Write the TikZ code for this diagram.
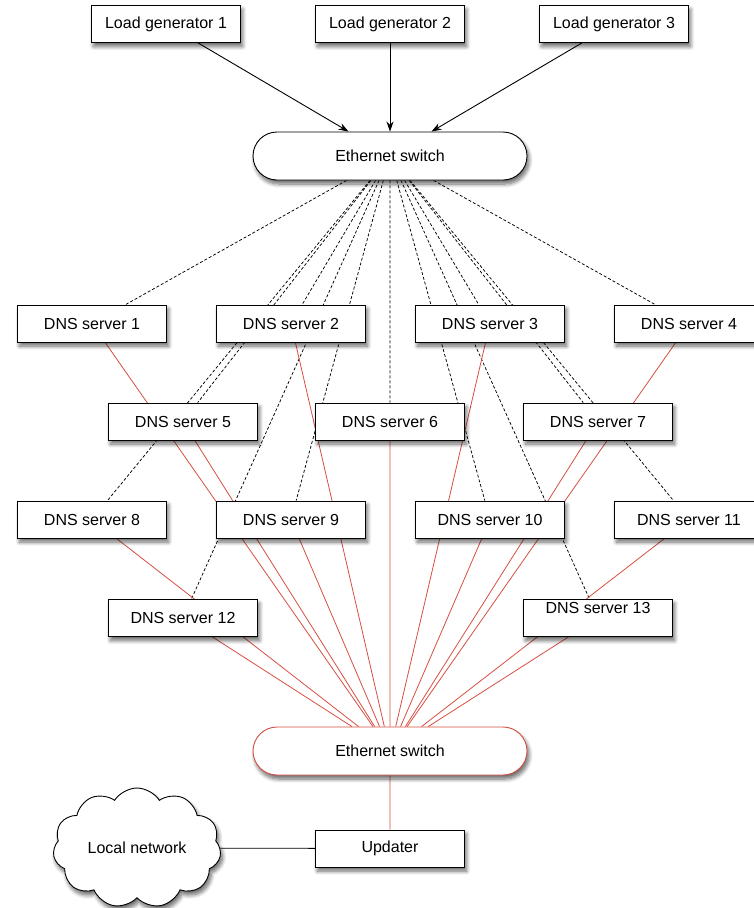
\documentclass[tikz,border=0pt]{standalone}
\usepackage{fontspec}
\setmainfont{Liberation Sans}
\usetikzlibrary{shapes.misc,shapes.symbols,arrows.meta,backgrounds,shadows.blur}
\definecolor{netred}{RGB}{214,78,66}
\begin{document}
\begin{tikzpicture}[x=1pt,y=-1pt,
  font=\fontsize{16}{19}\selectfont,
  shade/.style={blur shadow={shadow xshift=2pt, shadow yshift=-4pt, shadow blur steps=8, shadow blur radius=4pt, shadow opacity=60}},
  box/.style={draw, fill=white, line width=0.9pt, minimum width=149pt, minimum height=37pt, inner sep=0pt, shade},
  switchbox/.style={draw, fill=white, line width=0.9pt, rounded rectangle, minimum width=274pt, minimum height=48pt, inner sep=0pt, shade},
  dashline/.style={draw=black, line width=0.75pt, dash pattern=on 3pt off 2pt},
  redline/.style={draw=netred, line width=0.8pt},
  arrowline/.style={draw, line width=0.9pt, -{Stealth[length=10pt,width=7pt]}}]

\useasboundingbox (0,0) rectangle (754,908);
\clip (0,0) rectangle (754,908);

% load generators
\node[box] (lg1) at (166,24) {Load generator 1};
\node[box] (lg2) at (390,24) {Load generator 2};
\node[box] (lg3) at (614,24) {Load generator 3};

% switches
\node[switchbox] (sw1) at (390,156) {Ethernet switch};
\node[switchbox, draw=netred] (sw2) at (390,751) {Ethernet switch};

% DNS servers
\node[box] (d1) at (92,323.5) {DNS server 1};
\node[box] (d2) at (291,323.5) {DNS server 2};
\node[box] (d3) at (490,323.5) {DNS server 3};
\node[box] (d4) at (689,323.5) {DNS server 4};
\node[box] (d5) at (183,421.5) {DNS server 5};
\node[box] (d6) at (390,421.5) {DNS server 6};
\node[box] (d7) at (598,421.5) {DNS server 7};
\node[box] (d8) at (92,519.5) {DNS server 8};
\node[box] (d9) at (291,519.5) {DNS server 9};
\node[box] (d10) at (490,519.5) {DNS server 10};
\node[box] (d11) at (689,519.5) {DNS server 11};
\node[box] (d12) at (183,618) {DNS server 12};
\node[box, label={[yshift=10pt]center:DNS server 13}] (d13) at (598,618) {};

% updater and local network
\node[box] (upd) at (390,848.5) {Updater};
\node[cloud, draw, fill=white, line width=0.9pt, cloud puffs=11, cloud puff arc=115, aspect=1.4, minimum width=168pt, minimum height=120pt, inner sep=0pt, shade] (lan) at (137,848) {Local network};

\begin{pgfonlayer}{background}
  \foreach \n in {1,...,13} \draw[dashline] (sw1) -- (d\n);
  \foreach \n in {1,...,13} \draw[redline] (sw2) -- (d\n);
  \draw[redline] (sw2) -- (upd);
  \draw[line width=0.8pt] (lan) -- (upd);
\end{pgfonlayer}

\draw[arrowline] (lg1) -- (sw1);
\draw[arrowline] (lg2) -- (sw1);
\draw[arrowline] (lg3) -- (sw1);
\end{tikzpicture}
\end{document}
